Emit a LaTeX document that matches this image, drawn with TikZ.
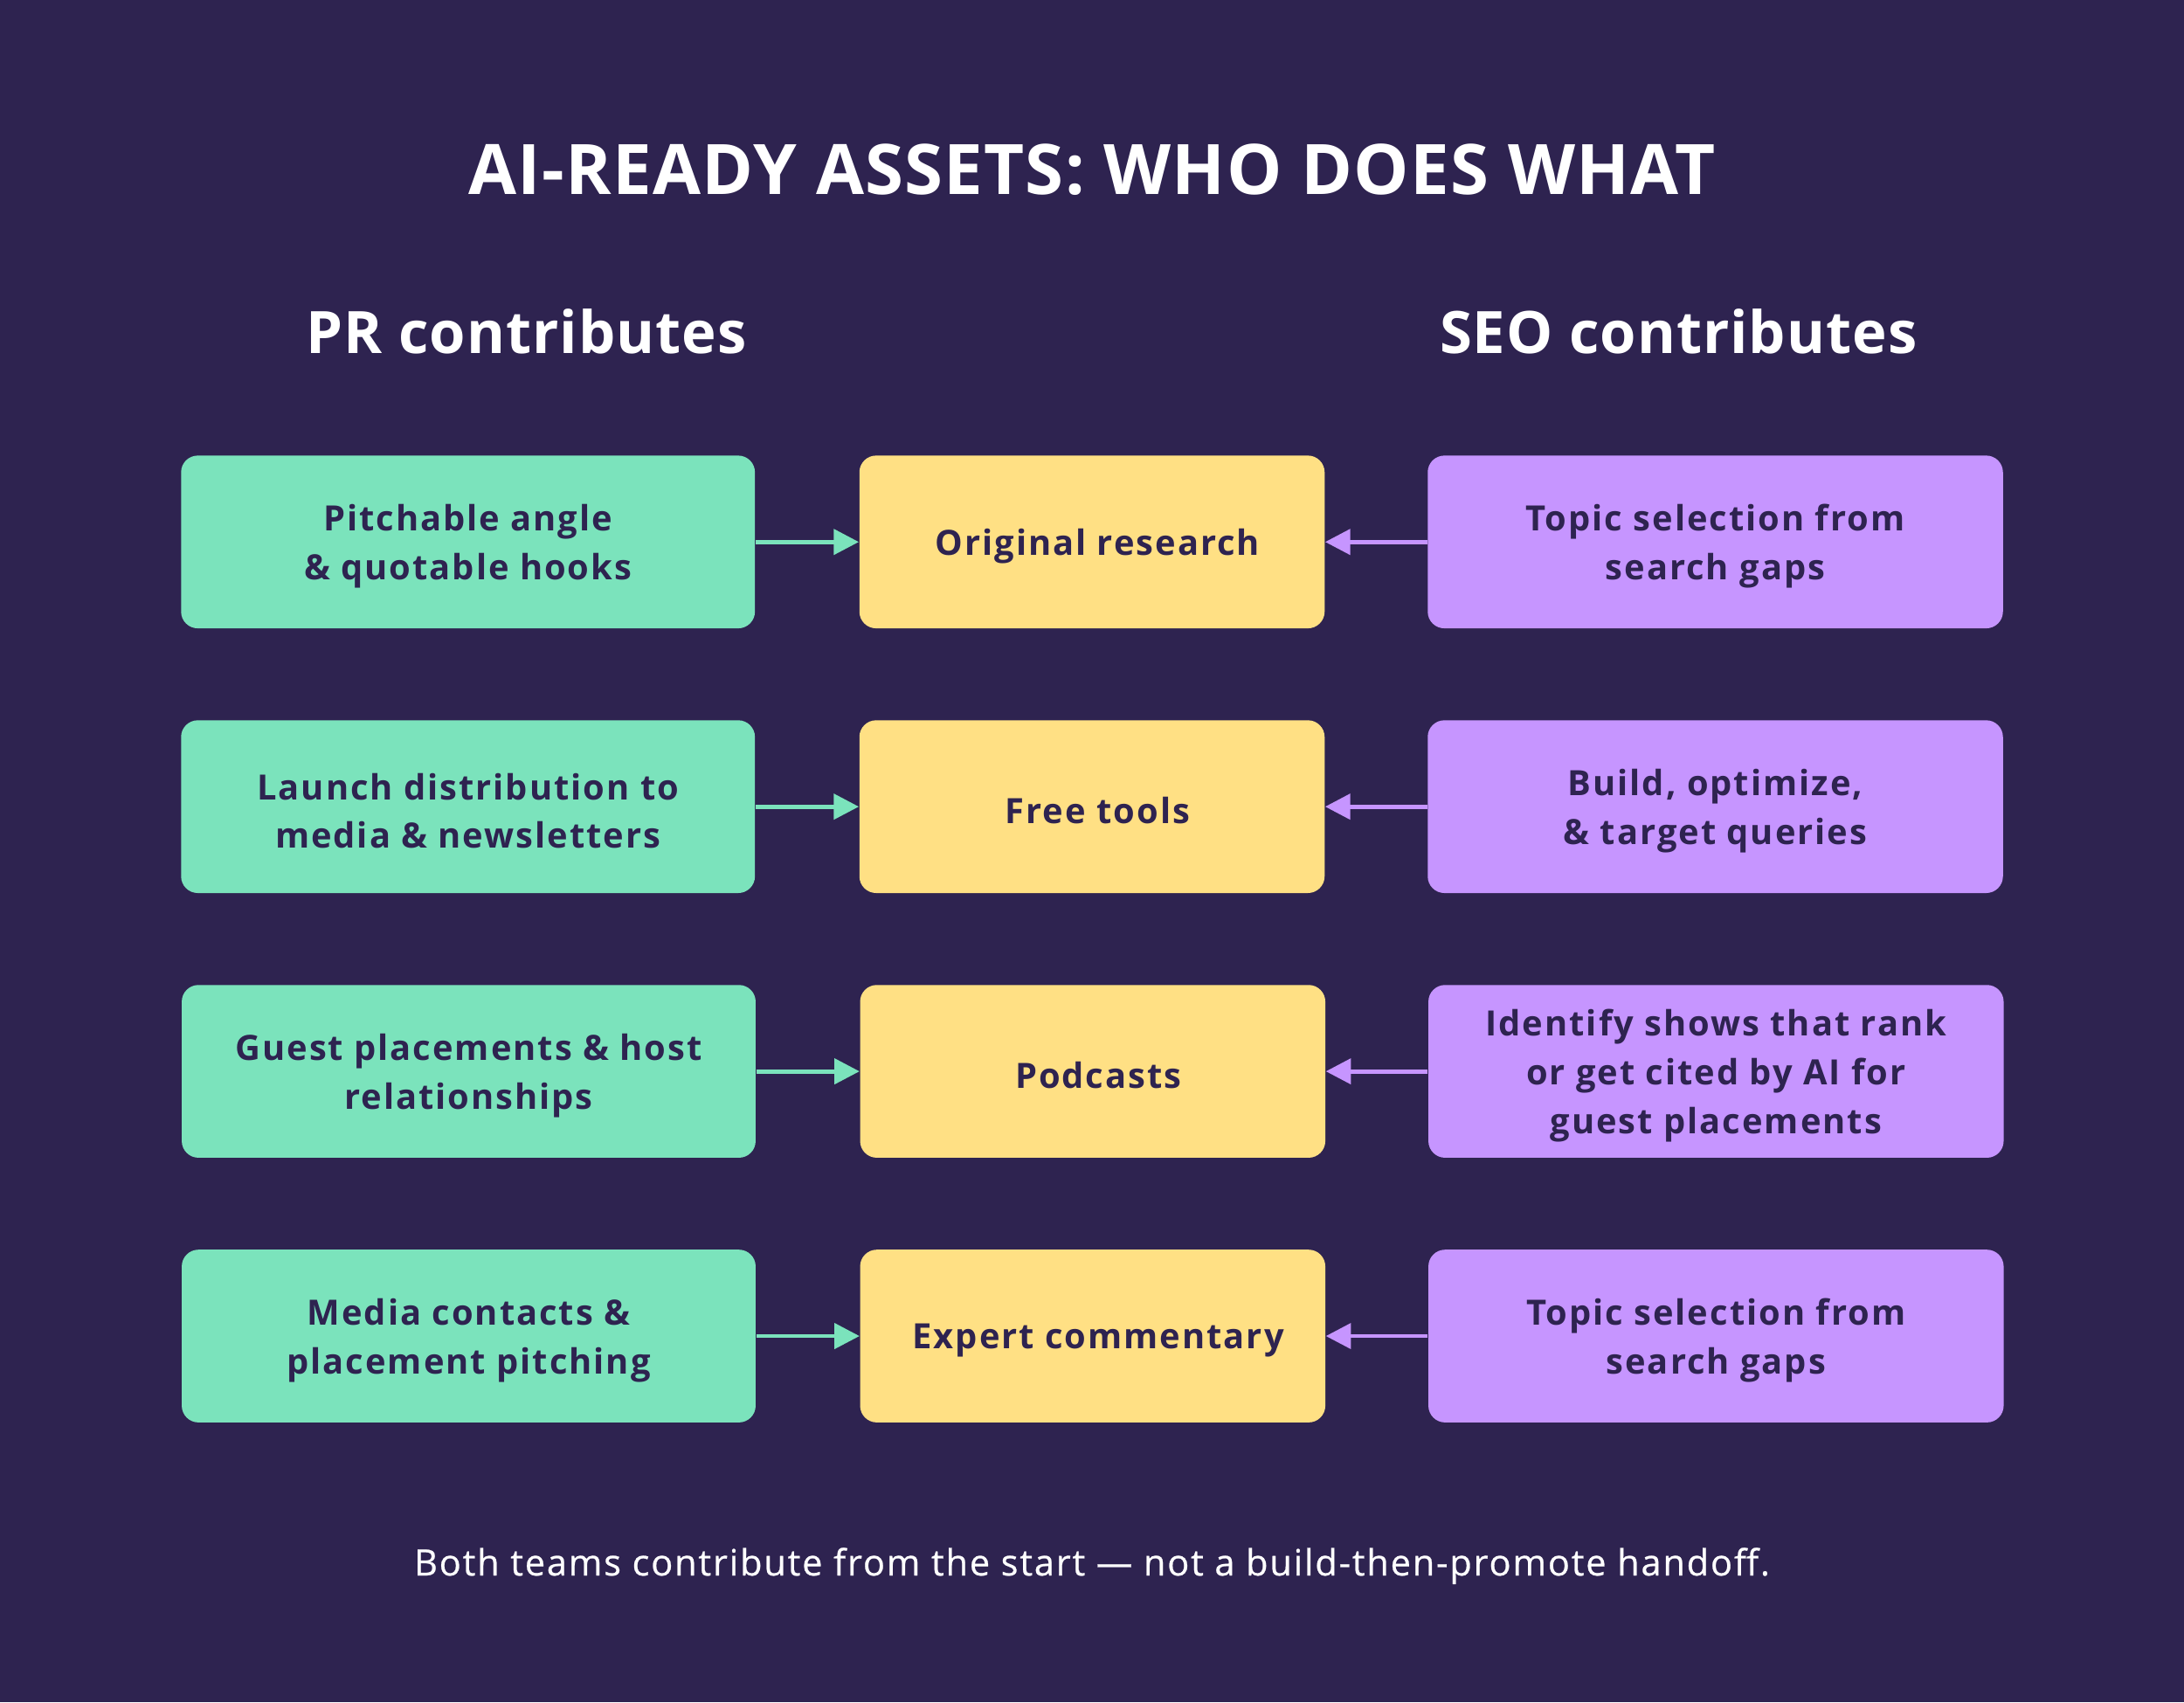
\documentclass[tikz,border=0pt]{standalone}
\usepackage{fontspec}
\setmainfont{Open Sans}
\usetikzlibrary{arrows.meta}
\definecolor{bg}{HTML}{2E2350}
\definecolor{pr}{HTML}{7BE3BC}
\definecolor{mid}{HTML}{FFE084}
\definecolor{seo}{HTML}{C695FF}
\begin{document}
\begin{tikzpicture}[x=0.5pt,y=-0.5pt,
  box/.style={rounded corners=6pt, minimum height=62pt, inner sep=0pt},
  prbox/.style={box, fill=pr, minimum width=206pt},
  midbox/.style={box, fill=mid, minimum width=167pt},
  seobox/.style={box, fill=seo, minimum width=206.5pt},
  boxtext/.style={inner sep=0pt, align=center, text=bg,
    font=\bfseries\fontsize{12.5}{17.5}\selectfont\addfontfeatures{LetterSpace=5}},
  prarrow/.style={draw=pr, line width=1.5pt, -{Triangle[length=9pt,width=9pt]}},
  seoarrow/.style={draw=seo, line width=1.5pt, -{Triangle[length=9pt,width=9pt]}},
  heading/.style={text=white, font=\bfseries\fontsize{21}{25}\selectfont\addfontfeatures{LetterSpace=1.5}}]
\fill[bg] (0,0) rectangle (1568,1222);
\useasboundingbox (0,0) rectangle (1568,1222);
\node[text=white, font=\bfseries\fontsize{25}{30}\selectfont\addfontfeatures{LetterSpace=1.5}] (title) at (784,122) {AI-READY ASSETS: WHO DOES WHAT};
\node[heading] (prh) at (378,238) {PR contributes};
\node[heading] (seoh) at (1205,238) {SEO contributes};
% boxes
\node[prbox] (p1) at (336,389) {};
\node[midbox] (m1) at (784,389) {};
\node[seobox] (s1) at (1231.5,389) {};
\node[prbox] (p2) at (336,579) {};
\node[midbox] (m2) at (784,579) {};
\node[seobox] (s2) at (1231.5,579) {};
\node[prbox] (p3) at (336.5,769) {};
\node[midbox] (m3) at (784.5,769) {};
\node[seobox] (s3) at (1232,769) {};
\node[prbox] (p4) at (336.5,959) {};
\node[midbox] (m4) at (784.5,959) {};
\node[seobox] (s4) at (1232,959) {};
% texts
\node[boxtext] (p1t) at ([yshift=-1.5pt]p1.center) {Pitchable angle\\\& quotable hooks};
\node[boxtext] (m1t) at ([xshift=2pt,yshift=-1.5pt]m1.center) {Original research};
\node[boxtext] (s1t) at ([yshift=-1.5pt]s1.center) {Topic selection from\\search gaps};
\node[boxtext] (p2t) at ([yshift=-1.5pt]p2.center) {Launch distribution to\\media \& newsletters};
\node[boxtext] (m2t) at ([xshift=2pt,yshift=-1.5pt]m2.center) {Free tools};
\node[boxtext] (s2t) at ([yshift=-1.5pt]s2.center) {Build, optimize,\\\& target queries};
\node[boxtext] (p3t) at ([yshift=-1.5pt]p3.center) {Guest placements \& host\\relationships};
\node[boxtext] (m3t) at ([xshift=2pt,yshift=-1.5pt]m3.center) {Podcasts};
\node[boxtext] (s3t) at ([yshift=-1.5pt]s3.center) {Identify shows that rank\\or get cited by AI for\\guest placements};
\node[boxtext] (p4t) at ([yshift=-1.5pt]p4.center) {Media contacts \&\\placement pitching};
\node[boxtext] (m4t) at ([xshift=2pt,yshift=-1.5pt]m4.center) {Expert commentary};
\node[boxtext] (s4t) at ([yshift=-1.5pt]s4.center) {Topic selection from\\search gaps};
\foreach \i in {1,2,3,4}{
  \draw[prarrow] (p\i.east) -- (m\i.west);
  \draw[seoarrow] (s\i.west) -- (m\i.east);
}
\node[text=white, font=\fontsize{13}{15}\selectfont\addfontfeatures{LetterSpace=4.5,FakeBold=0.6}] (foot) at (784,1124) {Both teams contribute from the start — not a build-then-promote handoff.};
\end{tikzpicture}
\end{document}
